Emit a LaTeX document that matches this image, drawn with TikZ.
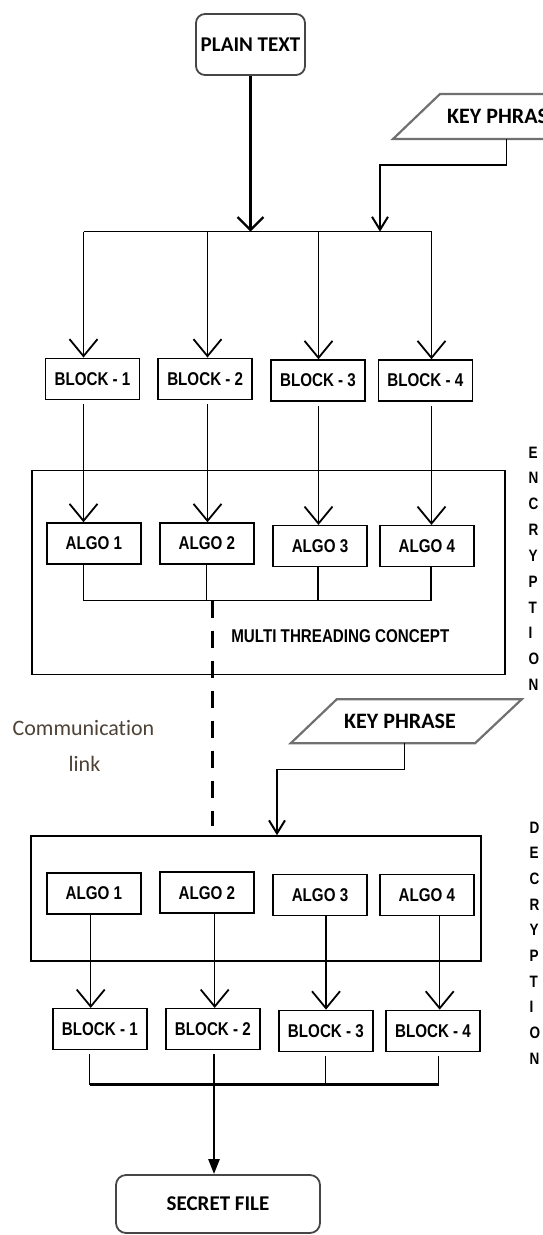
\documentclass[tikz,border=0pt]{standalone}
\usepackage{fontspec}
\usetikzlibrary{arrows.meta}
\newfontfamily\nbfont{Liberation Sans Bold}[FakeStretch=0.82]
\newfontfamily\calfont{Carlito}[Ligatures=NoCommon]
\definecolor{linkbrown}{RGB}{78,66,54}
\definecolor{framegray}{RGB}{70,70,70}
\definecolor{paragray}{RGB}{112,112,112}

\begin{document}
\begin{tikzpicture}[x=1pt,y=-1pt,
  box/.style={draw, line width=1.5pt, rectangle, inner sep=0pt,
    minimum height=41pt, minimum width=94pt,
    font=\nbfont\fontsize{18.5}{20}\selectfont},
  frame/.style={draw, line width=1.5pt, rectangle, inner sep=0pt},
  term/.style={draw=framegray, line width=1.8pt, rectangle, inner sep=0pt,
    font=\calfont\bfseries\fontsize{21}{23}\selectfont},
  keytext/.style={inner sep=0pt, font=\calfont\bfseries\fontsize{22}{24}\selectfont},
  para/.style={draw=paragray, line width=2.2pt, line join=miter},
  note/.style={inner sep=0pt, font=\nbfont\fontsize{18.5}{20}\selectfont},
  vert/.style={inner sep=0pt, align=left, anchor=north west},
  commtext/.style={inner sep=0pt, anchor=base, text=linkbrown,
    font=\calfont\fontsize{22}{24}\selectfont},
  wire/.style={line width=1.2pt},
  bus/.style={line width=2.6pt},
  feed/.style={wire, -{Straight Barb[length=17pt,width=28pt,line width=1.8pt]}},
  thickfeed/.style={bus, -{Straight Barb[length=13pt,width=26pt,line width=2.4pt]}},
  keyfeed/.style={wire, -{Straight Barb[length=13pt,width=16pt,line width=2pt]}},
  outfeed/.style={bus, -{Triangle[length=15pt,width=11pt]}},
  link/.style={line width=2.5pt, dash pattern=on 17pt off 13pt}
]
\useasboundingbox (0,0) rectangle (543,1235);
\clip (0,0) rectangle (543,1235);

% ---------------- encryption side ----------------
\node[term, rounded corners=9pt, minimum width=109pt, minimum height=61pt]
  (plain) at (250.5,44.5) {PLAIN TEXT};

% key phrase input (parallelogram)
\draw[para] (440,94) -- (625,94) -- (578,139) -- (393,139) -- cycle;
\node[keytext] (key1) at (503,116.5) {KEY PHRASE};
\coordinate (k1out) at (506.7,139);

\node[frame, minimum width=473pt, minimum height=203.6pt] (encbox) at (268.5,572.5) {};

\node[box] (eb1) at (92.5,378.8) {BLOCK - 1};
\node[box] (eb2) at (205.2,378.8) {BLOCK - 2};
\node[box] (eb3) at (318,380.5) {BLOCK - 3};
\node[box] (eb4) at (425.3,380.5) {BLOCK - 4};

\node[box] (ea1) at (93.9,543.5) {ALGO 1};
\node[box] (ea2) at (206.8,543.5) {ALGO 2};
\node[box] (ea3) at (320,546.2) {ALGO 3};
\node[box] (ea4) at (426.9,546.2) {ALGO 4};

\node[note] (mtc) at (340.3,636) {MULTI THREADING CONCEPT};
\node[vert, font=\nbfont\fontsize{16.5}{25.83}\selectfont] (encword) at (528.5,446.5)
  {E\\N\\C\\R\\Y\\P\\T\\I\\O\\N};

% split bus under the plain text
\coordinate (ec1) at (83.5,231.7);
\coordinate (ec2) at (207.5,231.7);
\coordinate (ec3) at (318.5,231.7);
\coordinate (ec4) at (431.5,231.7);
\draw[wire] (ec1) -- (ec4);
\draw[thickfeed] (plain.south) -- (plain.south |- ec1);

% key phrase into the split bus
\coordinate (kdrop1) at (506.7,165);
\coordinate (kin1) at (380,231.7);
\draw[keyfeed] (k1out) -- (kdrop1) -| (kin1);

\foreach \i in {1,...,4}{
  \draw[feed] (ec\i) -- (eb\i.north -| ec\i);
  \draw[feed] ([yshift=-4pt]eb\i.south -| ec\i) -- (ea\i.north -| ec\i);
}

% join of the four threads
\coordinate (ej1) at (83.5,600.7);
\coordinate (ej2) at (206.7,600.7);
\coordinate (ej3) at (318,600.7);
\coordinate (ej4) at (431,600.7);
\foreach \i in {1,...,4}{
  \draw[wire] (ea\i.south -| ej\i) -- (ej\i);
}
\draw[wire] (ej1) -- (ej4);

% ---------------- communication link ----------------
\coordinate (linkend) at (212.5,826);
\draw[link] (ej1 -| linkend) -- (linkend);
\node[commtext] (comm1) at (83.5,735) {Communication};
\node[commtext] (comm2) at (84.5,771.7) {link};

% ---------------- decryption side ----------------
\draw[para] (336.7,699.3) -- (521.7,699.3) -- (475,743.3) -- (290.7,743.3) -- cycle;
\node[keytext] (key2) at (400,721.3) {KEY PHRASE};
\coordinate (k2out) at (404.3,743.3);

\node[frame, minimum width=450pt, minimum height=125pt] (decbox) at (256,898.5) {};

\node[box] (da1) at (93.9,893.4) {ALGO 1};
\node[box] (da2) at (206.8,892.7) {ALGO 2};
\node[box] (da3) at (320,895) {ALGO 3};
\node[box] (da4) at (426.9,895) {ALGO 4};

\node[box] (dk1) at (99.9,1029.2) {BLOCK - 1};
\node[box] (dk2) at (212.9,1029.2) {BLOCK - 2};
\node[box] (dk3) at (325.9,1030.9) {BLOCK - 3};
\node[box] (dk4) at (433,1030.9) {BLOCK - 4};

\node[vert, font=\nbfont\fontsize{16.5}{25.7}\selectfont] (decword) at (529.5,821.5)
  {D\\E\\C\\R\\Y\\P\\T\\I\\O\\N};

\node[term, rounded corners=10pt, minimum width=204pt, minimum height=58pt]
  (secret) at (218,1204) {SECRET FILE};

% key phrase into the decryption unit
\coordinate (kdrop2) at (404.3,769.3);
\coordinate (kcol2) at (277,0);
\draw[keyfeed] (k2out) -- (kdrop2) -| (decbox.north -| kcol2);

% algorithms down to the recovered blocks
\coordinate (dx1) at (90.7,0);
\coordinate (dx2) at (214.7,0);
\coordinate (dx3) at (326,0);
\coordinate (dx4) at (439.7,0);
\foreach \i in {1,...,4}{
  \draw[feed] (da\i.south -| dx\i) -- (dk\i.north -| dx\i);
}

% merge of the blocks into the output file
\coordinate (dj1) at (89.5,1084.5);
\coordinate (dj2) at (214,1084.5);
\coordinate (dj3) at (325.5,1084.5);
\coordinate (dj4) at (438.5,1084.5);
\foreach \i in {1,...,4}{
  \draw[wire] ([yshift=-4pt]dk\i.south -| dj\i) -- (dj\i);
}
\draw[bus] (dj1) -- (dj4);
\draw[outfeed] (dj2) -- (secret.north -| dj2);
\end{tikzpicture}
\end{document}
